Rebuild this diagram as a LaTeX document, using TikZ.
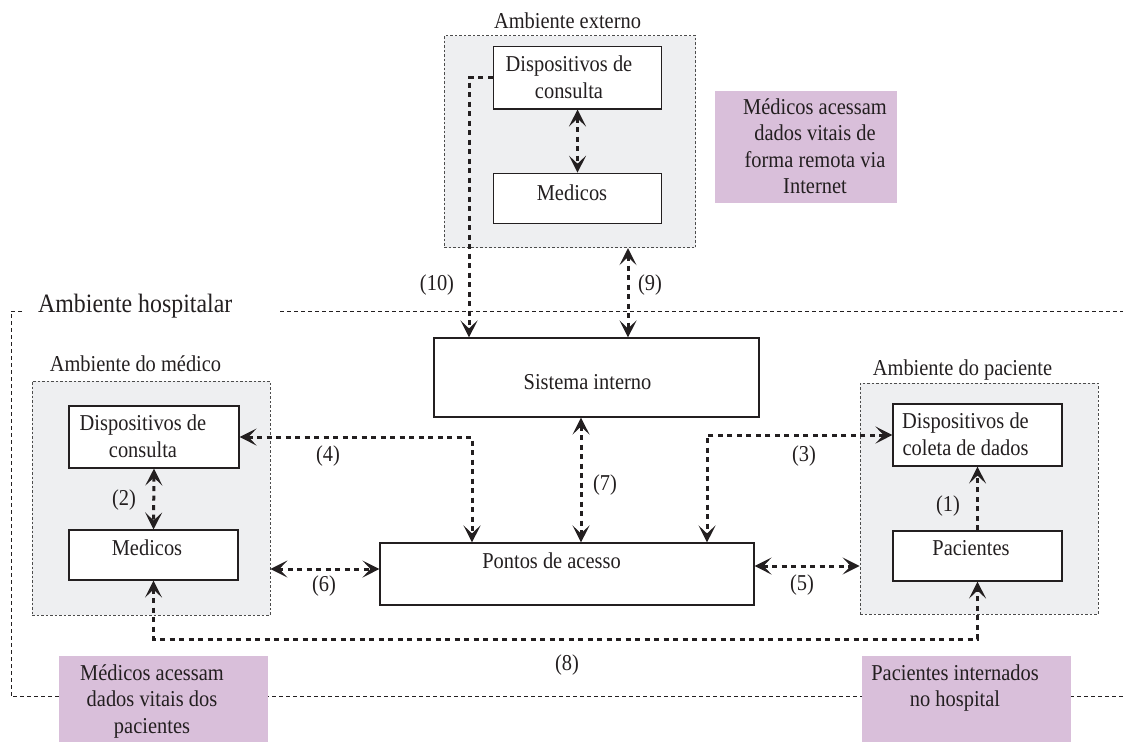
\documentclass[tikz,border=0pt]{standalone}
\usepackage{fontspec}
\setmainfont[FakeStretch=0.9]{Liberation Serif}
\usetikzlibrary{arrows.meta}
\definecolor{envgray}{HTML}{EEEFF1}
\definecolor{pinkbox}{HTML}{D9BFDA}
\definecolor{ink}{HTML}{231F20}
\tikzset{
  box/.style={draw=ink, line width=1.1pt, fill=white, inner sep=0pt},
  envbox/.style={draw=black!70, line width=0.8pt, dash pattern=on 2.5pt off 2pt, fill=envgray, inner sep=0pt},
  pinkrect/.style={fill=pinkbox, draw=none, inner sep=0pt},
  txt/.style={text=ink, font=\fontsize{22.7}{26.5}\selectfont, align=center, anchor=base, inner sep=0pt},
  bigtxt/.style={text=ink, font=\fontsize{26.5}{30}\selectfont, anchor=base west, inner sep=0pt},
  hosp/.style={draw=ink, line width=0.9pt, dash pattern=on 4pt off 3pt},
  arr/.style={draw=ink, line width=3pt, dash pattern=on 5pt off 4.5pt,
    arrows={-{Stealth[length=17pt, width=17pt, inset=8pt]}}},
  darr/.style={arr, arrows={{Stealth[length=17pt, width=17pt, inset=8pt]}-{Stealth[length=17pt, width=17pt, inset=8pt]}}},
}
\begin{document}
\begin{tikzpicture}[x=1pt, y=-1pt]
\useasboundingbox (0,0) rectangle (1123,742);

% hospital environment
\draw[hosp] (22,311) -- (11,311) -- (11,696.7) -- (1123,696.7);
\draw[hosp] (280,311) -- (1123,311);
\node[bigtxt] (hospT) at (38,312.7) {Ambiente hospitalar};

% environment boxes
\node[envbox, minimum width=251.4, minimum height=212] (envE) at (570,141.7) {};
\node[envbox, minimum width=238, minimum height=234] (envM) at (151,498) {};
\node[envbox, minimum width=238, minimum height=231] (envP) at (979,498.5) {};
\node[txt] (envET) at (567.5,28) {Ambiente externo};
\node[txt] (envMT) at (135.5,371.7) {Ambiente do médico};
\node[txt] (envPT) at (962.5,375) {Ambiente do paciente};

% boxes
\node[box, minimum width=168.5, minimum height=62.3] (dev1) at (577.5,77.8) {};
\node[box, minimum width=168.5, minimum height=50.5] (med1) at (577.5,198.5) {};
\node[box, minimum width=325, minimum height=79] (sis) at (596.5,377.5) {};
\node[box, minimum width=374, minimum height=62] (pontos) at (567,574) {};
\node[box, minimum width=170, minimum height=62] (devL) at (154,437) {};
\node[box, minimum width=169, minimum height=50] (medL) at (153.5,555) {};
\node[box, minimum width=169, minimum height=62] (devP) at (977.5,435) {};
\node[box, minimum width=169, minimum height=50] (pac) at (977.5,556) {};

% text nodes (anchor base = baseline of the last line)
\node[txt] (dev1T) at (569,98.3) {Dispositivos de\\consulta};
\node[txt] (med1T) at (572,200) {Medicos};
\node[txt] (sisT) at (587.5,389) {Sistema interno};
\node[txt] (pontosT) at (551.5,568) {Pontos de acesso};
\node[txt] (devLT) at (143,457) {Dispositivos de\\consulta};
\node[txt] (medLT) at (147,555) {Medicos};
\node[txt] (devPT) at (965.5,455) {Dispositivos de\\coleta de dados};
\node[txt] (pacT) at (971,555) {Pacientes};

% pink note boxes
\node[pinkrect, minimum width=182, minimum height=112] (pinkE) at (806,147) {};
\node[pinkrect, minimum width=209, minimum height=86] (pinkM) at (163.5,699) {};
\node[pinkrect, minimum width=209, minimum height=86] (pinkP) at (966.5,699) {};
\node[txt] (pinkET) at (815,193.5) {Médicos acessam\\dados vitais de\\forma remota via\\Internet};
\node[txt] (pinkMT) at (152,733) {Médicos acessam\\dados vitais dos\\pacientes};
\node[txt] (pinkPT) at (955,706.5) {Pacientes internados\\no hospital};

% connectors
\coordinate (c8) at (567,639);
\draw[darr] (dev1.south) -- (med1.north);
\draw[arr] (dev1.west) -| (sis.north -| 469,0);
\draw[darr] (envE.south -| 628,0) -- (sis.north -| 628,0);
\draw[darr] (sis.south -| 581,0) -- (pontos.north -| 581,0);
\draw[darr] (devL.east) -| (pontos.north -| 472,0);
\draw[darr] (devP.west) -| (pontos.north -| 707,0);
\draw[darr] (devL.south) -- (medL.north);
\draw[darr] (envM.east |- 0,569) -- (pontos.west |- 0,569);
\draw[darr] (pontos.east |- 0,566) -- (envP.west |- 0,566);
\draw[darr] (medL.south) |- (c8) -| (pac.south);
\draw[arr] (pac.north) -- (devP.south);

% connector labels
\node[txt] (l1) at (948,511.7) {(1)};
\node[txt] (l2) at (124,505) {(2)};
\node[txt] (l3) at (804,461.7) {(3)};
\node[txt] (l4) at (328,461.7) {(4)};
\node[txt] (l5) at (802,590) {(5)};
\node[txt] (l6) at (324,591.7) {(6)};
\node[txt] (l7) at (605,490) {(7)};
\node[txt] (l8) at (567,670) {(8)};
\node[txt] (l9) at (650,290) {(9)};
\node[txt] (l10) at (437,290) {(10)};
\end{tikzpicture}
\end{document}
